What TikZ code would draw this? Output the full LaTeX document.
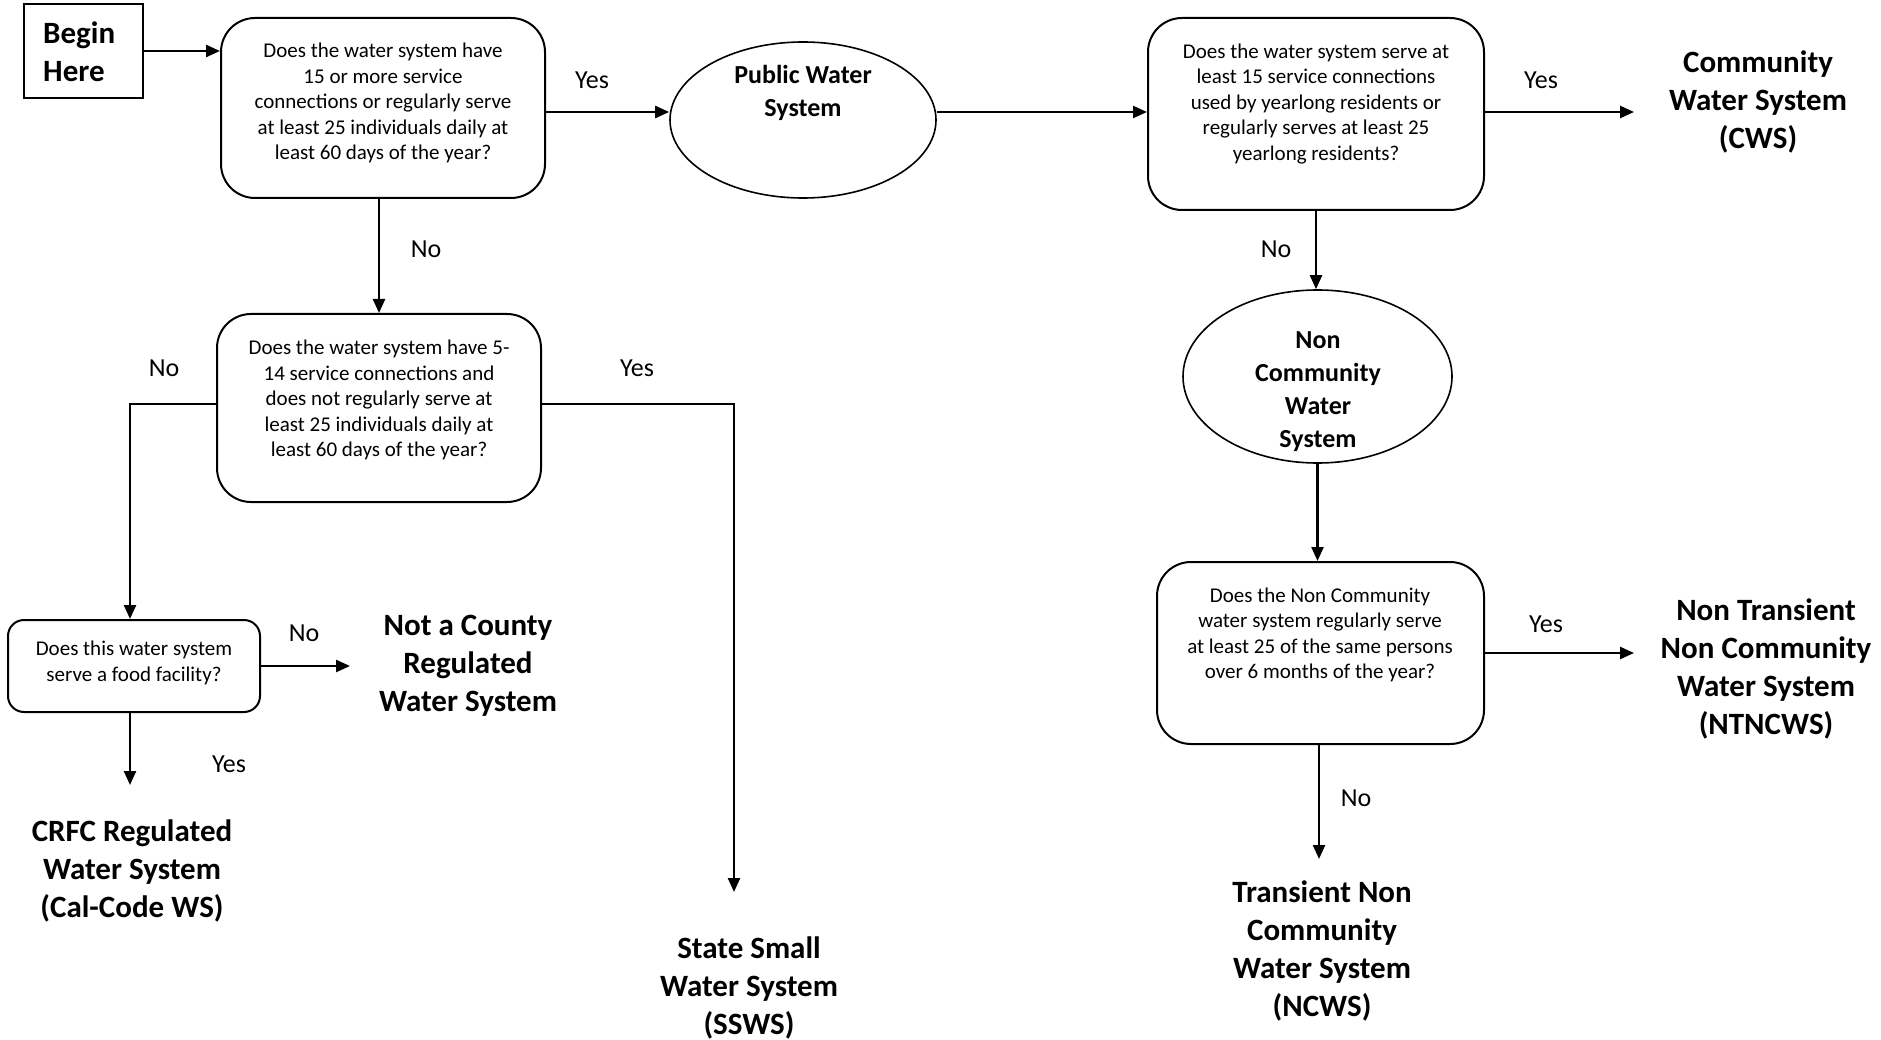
\documentclass[tikz,border=0pt]{standalone}
\usepackage{fontspec}
\setmainfont{Carlito}
\usetikzlibrary{arrows.meta,shapes.geometric}
\begin{document}
\begin{tikzpicture}[x=1pt,y=-1pt,
  qbox/.style={draw, line width=2pt, rounded corners=34pt, inner sep=0pt},
  qtext/.style={align=center, inner sep=0pt, font=\fontsize{21}{25.5}\selectfont},
  oval/.style={draw, ellipse, line width=1.6pt, inner sep=0pt},
  otext/.style={align=center, inner sep=0pt, font=\fontsize{26}{33}\selectfont\bfseries},
  term/.style={align=center, inner sep=0pt, font=\fontsize{31}{38}\selectfont\bfseries},
  lbl/.style={inner sep=0pt, font=\fontsize{26}{30}\selectfont},
  conn/.style={line width=2.4pt, -{Triangle[length=14pt,width=12pt]}},
  plainline/.style={line width=2.4pt}
]
\fill[white] (0,0) rectangle (1881,1040);
\useasboundingbox (0,0) rectangle (1881,1040);

% start
\node[draw, line width=2pt, minimum width=119pt, minimum height=94pt, inner sep=0pt] (begin) at (83.5,51) {};
\node[term, align=left, anchor=west] (begintxt) at (43,52) {Begin\\Here};

% question boxes
\node[qbox, minimum width=324pt, minimum height=180pt] (q1) at (383,108) {};
\node[qtext] (q1t) at (383,103) {Does the water system have\\15 or more service\\connections or regularly serve\\at least 25 individuals daily at\\least 60 days of the year?};

\node[qbox, minimum width=336pt, minimum height=192pt] (q2) at (1316,114) {};
\node[qtext] (q2t) at (1316,104) {Does the water system serve at\\least 15 service connections\\used by yearlong residents or\\regularly serves at least 25\\yearlong residents?};

\node[qbox, minimum width=324pt, minimum height=188pt] (qm) at (379,408) {};
\node[qtext] (qmt) at (379,400) {Does the water system have 5-\\14 service connections and\\does not regularly serve at\\least 25 individuals daily at\\least 60 days of the year?};

\node[qbox, rounded corners=16pt, minimum width=252pt, minimum height=92pt] (q3) at (134,666) {};
\node[qtext] (q3t) at (134,663) {Does this water system\\serve a food facility?};

\node[qbox, minimum width=327pt, minimum height=182pt] (q4) at (1320.5,653) {};
\node[qtext] (q4t) at (1320,635) {Does the Non Community\\water system regularly serve\\at least 25 of the same persons\\over 6 months of the year?};

% ellipses
\node[oval, minimum width=266pt, minimum height=156pt] (pws) at (803,120) {};
\node[otext] (pwst) at (803,93) {Public Water\\System};

\node[oval, minimum width=269pt, minimum height=173pt] (ncw) at (1317.5,376.5) {};
\node[otext] (ncwt) at (1318,392) {Non\\Community\\Water\\System};

% terminal texts
\node[term] (cws) at (1758,102) {Community\\Water System\\(CWS)};
\node[term] (notc) at (468,666) {Not a County\\Regulated\\Water System};
\node[term] (crfc) at (132,871) {CRFC Regulated\\Water System\\(Cal-Code WS)};
\node[term] (ssws) at (749,988) {State Small\\Water System\\(SSWS)};
\node[term] (ntncws) at (1766,669) {Non Transient\\Non Community\\Water System\\(NTNCWS)};
\node[term] (ncws) at (1322,951) {Transient Non\\Community\\Water System\\(NCWS)};

% arrow ends
\coordinate (cwsin) at (1634,112);
\coordinate (sswsin) at (734,892);
\coordinate (notcin) at (350,666);
\coordinate (crfcin) at (130,785);
\coordinate (ntnin) at (1634,653);
\coordinate (ncwsin) at (1319,859);

% connectors
\draw[conn] (begin.east) -- (begin.east -| q1.west);
\draw[conn] ([yshift=-4pt]q1.east) -- ([yshift=-4pt]q1.east -| pws.west);
\draw[conn] ([yshift=2pt]q2.west -| pws.east) -- ([yshift=2pt]q2.west);
\draw[conn] ([yshift=2pt]q2.east) -- (cwsin);
\draw[conn] ([xshift=-4pt]q1.south) -- ([xshift=-4pt]q1.south |- qm.north);
\draw[conn] ([yshift=4pt]qm.west) -| ([xshift=-4pt]q3.north);
\draw[conn] ([yshift=4pt]qm.east) -| (sswsin);
\draw[conn] (q3.east) -- (notcin);
\draw[conn] ([xshift=-4pt]q3.south) -- (crfcin);
\draw[conn] (q2.south) -- (q2.south |- ncw.north);
\draw[conn] (ncw.south) -- (ncw.south |- q4.north);
\draw[conn] ([xshift=-1.5pt]q4.south) -- (ncwsin);
\draw[conn] (q4.east) -- (ntnin);

% labels
\node[lbl] (l1) at (592,80) {Yes};
\node[lbl] (l2) at (426,249) {No};
\node[lbl] (l3) at (164,368) {No};
\node[lbl] (l4) at (637,368) {Yes};
\node[lbl] (l5) at (304,633) {No};
\node[lbl] (l6) at (229,764) {Yes};
\node[lbl] (l7) at (1276,249) {No};
\node[lbl] (l8) at (1541,80) {Yes};
\node[lbl] (l9) at (1546,624) {Yes};
\node[lbl] (l10) at (1356,798) {No};
\end{tikzpicture}
\end{document}
